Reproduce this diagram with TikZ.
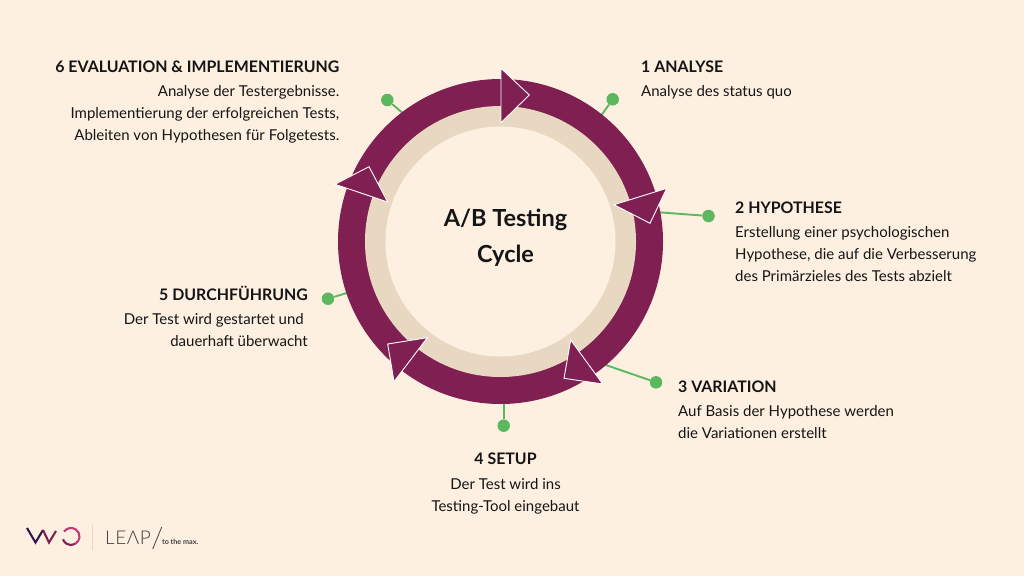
\documentclass[tikz,border=0pt]{standalone}
\usepackage{fontspec}
\setmainfont{Lato}
\newfontfamily\leapfont[LetterSpace=3]{Lato Light}
\usetikzlibrary{positioning}
\definecolor{paper}{HTML}{FDF0E1}
\definecolor{ringred}{HTML}{7F1F52}
\definecolor{ringtan}{HTML}{E8D8C2}
\definecolor{stemgreen}{HTML}{5CB85F}
\definecolor{inktext}{HTML}{151515}
\definecolor{vwonavy}{HTML}{2E1A4F}
\definecolor{vwopink}{HTML}{C23A78}
\tikzset{
	head/.style={inner sep=0pt, text=inktext, font=\fontsize{15.9}{22}\selectfont\bfseries},
	body/.style={inner sep=0pt, text=inktext, font=\fontsize{15}{22}\selectfont},
	pin/.style={circle, fill=stemgreen, inner sep=0pt, minimum size=12.5pt},
	stem/.style={draw=stemgreen, line width=1.9pt},
	tip/.style={fill=ringred, draw=white, line width=0.9pt, line join=miter},
	vwo/.style={line width=2.1pt, line join=miter}
}
\begin{document}
\begin{tikzpicture}[x=1pt, y=-1pt]
\fill[paper] (0,0) rectangle (1024,576);
\useasboundingbox (0,0) rectangle (1024,576);
%% pins
	\node[pin] (pinA) at (612.7,99.3) {};
	\node[pin] (pinB) at (708.5,216) {};
	\node[pin] (pinC) at (656,382.3) {};
	\node[pin] (pinD) at (503.7,425.7) {};
	\node[pin] (pinE) at (328,298.7) {};
	\node[pin] (pinF) at (387.3,100) {};
	\coordinate (endA) at (598,120);
	\coordinate (endB) at (655,212);
	\coordinate (endC) at (600,363);
	\coordinate (endD) at (503.7,400);
	\coordinate (endE) at (350,292);
	\coordinate (endF) at (405,115);
	\draw[stem] (pinA) -- (endA);
	\draw[stem] (pinB) -- (endB);
	\draw[stem] (pinC) -- (endC);
	\draw[stem] (pinD) -- (endD);
	\draw[stem] (pinE) -- (endE);
	\draw[stem] (pinF) -- (endF);
%% ring
	\fill[ringred] (500.5,241.5) circle[radius=162.5];
	\fill[ringtan] (500.5,241.5) circle[radius=135.5];
	\fill[paper] (500.5,241.5) circle[radius=115];
%% arrow tips on the ring
	\draw[tip] (501,68.3) -- (529.3,95) -- (501,122.7) -- cycle;
	\draw[tip] (666.7,188.3) -- (614,204.7) -- (650,223.3) -- cycle;
	\draw[tip] (570.7,340) -- (602.7,384) -- (564,378.3) -- cycle;
	\draw[tip] (427.3,337.7) -- (394,381.7) -- (387.7,344) -- cycle;
	\draw[tip] (335,184.3) -- (369,166.7) -- (387.7,202) -- cycle;
%% centre
	\node[inner sep=0pt, text=inktext, align=center, font=\fontsize{23.5}{36}\selectfont\bfseries] (title) at (505.5,238) {A/B Testing\\Cycle};
%% 1
	\node[head, anchor=west] (headA) at (641,66.5) {1 ANALYSE};
	\node[body, anchor=west] (textA) at (641,92.5) {Analyse des status quo};
%% 2
	\node[head, anchor=west] (headB) at (735,207.5) {2 HYPOTHESE};
	\node[body, anchor=north west, align=left] (textB) at (735,226.5) {Erstellung einer psychologischen\\Hypothese, die auf die Verbesserung\\des Primärzieles des Tests abzielt};
%% 3
	\node[head, anchor=west] (headC) at (678,386.5) {3 VARIATION};
	\node[body, anchor=north west, align=left] (textC) at (678,405.5) {Auf Basis der Hypothese werden\\die Variationen erstellt};
%% 4
	\node[head] (headD) at (505.5,458.5) {4 SETUP};
	\node[body, anchor=north, align=center] (textD) at (505.5,478.5) {Der Test wird ins\\Testing-Tool eingebaut};
%% 5
	\node[head, anchor=east] (headE) at (308,293.5) {5 DURCHFÜHRUNG};
	\node[body, anchor=north east, align=right] (textE) at (308,313) {Der Test wird gestartet und\hspace*{4pt}\\dauerhaft überwacht};
%% 6
	\node[head, anchor=east] (headF) at (339.5,66.5) {6 EVALUATION \& IMPLEMENTIERUNG};
	\node[body, anchor=north east, align=right] (textF) at (339.5,85.5) {Analyse der Testergebnisse.\\Implementierung der erfolgreichen Tests,\\Ableiten von Hypothesen für Folgetests.};
%% logos
	\draw[vwo, color=vwonavy] (27,528) -- (35.5,542.5) -- (43,530);
	\draw[vwo, color=ringred] (43,530) -- (49,542.5) -- (56,531);
	\draw[vwo, color=vwopink] (71,536.5) ++(-145:8.5) arc[start angle=-145, end angle=60, radius=8.5];
	\draw[vwo, color=ringred] (71,536.5) ++(60:8.5) arc[start angle=60, end angle=161, radius=8.5];
	\draw[color=ringtan, line width=0.5pt] (92,525) -- (92,550);
	\node[inner sep=0pt, anchor=base west, text=black!75, font=\fontsize{19}{19}\selectfont\leapfont] (leap) at (105,544) {LEΛP};
	\coordinate (slashtop) at (161.7,527);
	\coordinate (slashend) at (152.7,549);
	\draw[color=black!75, line width=0.8pt] (slashtop) -- (slashend);
	\node[inner sep=0pt, anchor=base west, text=black!75, font=\fontsize{7.2}{8}\selectfont\bfseries] (claim) at (162,544) {to the max.};
\end{tikzpicture}
\end{document}
